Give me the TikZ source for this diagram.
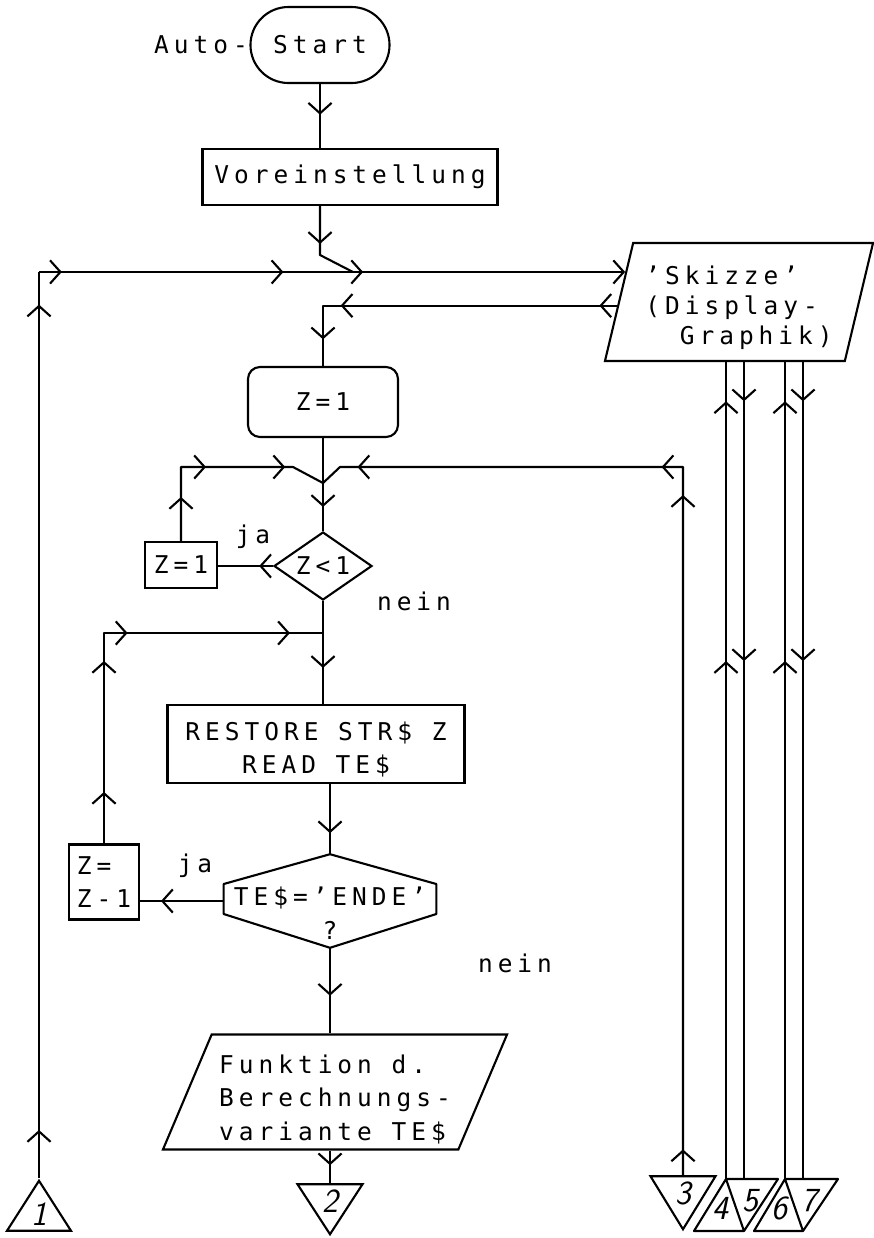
\documentclass[tikz,border=0pt]{standalone}
\usepackage{fontspec}
\newfontfamily\plotfont[LetterSpace=20.4]{DejaVu Sans Mono}
\usepackage{tikz}
\usetikzlibrary{positioning,arrows.meta,calc,shapes.geometric,shapes.misc,decorations.markings}
\tikzset{
  >={Straight Barb[length=2.6mm,width=5.8mm]},
  flow/.style={line width=1.5pt, line join=round},
  midarr/.style={postaction={decorate,decoration={markings,
                 mark=at position #1 with {\arrow{>}}}}},
  ptext/.style={font=\plotfont\fontsize{17.4}{23.5}\selectfont, inner sep=0pt},
  lbl/.style={ptext},
  termbox/.style={ptext, rounded rectangle, draw, line width=1.5pt},
  procbox/.style={ptext, draw, line width=1.5pt, align=center},
  rprocbox/.style={procbox, rounded corners=3mm},
  iobox/.style={ptext, trapezium, trapezium stretches body, draw, line width=1.5pt, align=left},
  decide/.style={ptext, diamond, aspect=1.44, draw, line width=1.5pt},
  hexbox/.style={ptext, align=center},
  connbox/.style={isosceles triangle, isosceles triangle stretches, draw, line width=1.5pt,
                  inner sep=0pt, font=\sffamily\slshape\fontsize{24}{24}\selectfont},
  connum/.style={inner sep=0pt, font=\sffamily\slshape\fontsize{24}{24}\selectfont}
}
\begin{document}
\begin{tikzpicture}[x=0.025cm, y=-0.025cm]
\useasboundingbox (0,0) rectangle (874,1238);
% main column
\node[termbox, minimum width=3.475cm, minimum height=1.9cm] (start) at (320,45) {Start};
\node[lbl, left=1pt of start] (auto) {Auto-};
\node[procbox, minimum width=7.375cm, minimum height=1.4cm] (vor) at (350,177) {Voreinstellung};
\node[iobox, minimum width=6.7cm, minimum height=2.95cm, trapezium left angle=74.4,
      trapezium right angle=105.6, font=\plotfont\fontsize{17.4}{21.5}\selectfont,
      text height=2.325cm, text depth=0.2cm] (skizze) at (739,302) {’Skizze’\\(Display-\\\phantom{xx}Graphik)};
\node[rprocbox, minimum width=3.75cm, minimum height=1.75cm] (z1) at (323,402) {Z=1};
\node[decide, minimum width=2.45cm, minimum height=1.7cm] (dZ) at (323,566) {Z<1};
\node[procbox, minimum width=1.8cm, minimum height=1.15cm] (z1s) at (181,565) {Z=1};
\node[lbl] (ja1) at (253,537) {ja};
\node[lbl] (nein1) at (414,601) {nein};
\node[procbox, minimum width=7.425cm, minimum height=1.95cm, text height=1.675cm,
      text depth=0.2cm] (restore) at (316,744) {RESTORE STR\$ Z\\READ TE\$};
\node[hexbox, minimum width=5.3cm, minimum height=2.325cm, text height=2.1cm,
      text depth=0.2cm] (te) at (330,901) {TE\$=’ENDE’\\?};
\node[procbox, align=left, minimum width=1.75cm, minimum height=1.875cm] (zzm1) at (104,882) {Z=\\Z-1};
\node[lbl] (ja2) at (195,866) {ja};
\node[lbl] (nein2) at (515,963) {nein};
\node[iobox, minimum width=8.6cm, minimum height=2.875cm, trapezium left angle=66.5,
      trapezium right angle=113.5, text height=2.6cm, text depth=0.2cm] (funk) at (335,1092)
      {Funktion d.\\Berechnungs-\\variante TE\$};
% connectors
\node[connbox, shape border rotate=90, minimum width=1.6cm, minimum height=1.25cm, anchor=apex] (c1) at (39,1178) {1};
\node[connbox, shape border rotate=270, minimum width=1.625cm, minimum height=1.25cm, anchor=apex] (c2) at (330,1237) {2};
\node[connbox, shape border rotate=270, minimum width=1.625cm, minimum height=1.325cm, anchor=apex] (c3) at (683,1232) {3};
\coordinate (p4a) at (694,1231);
\coordinate (p45) at (726,1179);
\coordinate (p5r) at (778,1179);
\coordinate (p5b) at (744,1231);
\coordinate (p6a) at (754,1231);
\coordinate (p67) at (785,1179);
\coordinate (p7r) at (838,1179);
\coordinate (p7b) at (803,1231);
\draw[flow] (p4a) -- (p45) -- (p5r) -- (p5b) -- cycle (p45) -- (p5b);
\draw[flow] (p6a) -- (p67) -- (p7r) -- (p7b) -- cycle (p67) -- (p7b);
\node[connum] (n4) at (720,1208) {4};
\node[connum] (n5) at (750,1201) {5};
\node[connum] (n6) at (779,1208) {6};
\node[connum] (n7) at (809,1201) {7};
% hexagon round TE$
\draw[flow] (te.north) -- ($(te.west)+(0,-17)$) -- ($(te.west)+(0,13)$) -- (te.south)
  -- ($(te.east)+(0,13)$) -- ($(te.east)+(0,-17)$) -- cycle;
% junctions
\coordinate (j0) at (320,255);
\coordinate (m0) at (353,272);
\coordinate (skin) at ($(skizze.top left corner)!0.25!(skizze.bottom left corner)$);
\coordinate (skout) at ($(skizze.top left corner)!0.53!(skizze.bottom left corner)$);
\coordinate (tl) at (c1.apex |- skin);
\coordinate (m1) at (323,483);
\coordinate (ml) at (293,467);
\coordinate (mr) at (340,467);
\coordinate (jr) at (323,633);
% flow lines
\draw[flow, midarr=0.48] (start.south) -- (start.south |- vor.north);
\draw[flow, midarr=0.44] (start.south |- vor.south) -- (j0) -- (m0);
\draw[flow, midarr=0.053, midarr=0.964] (c1.apex) -- (tl);
\draw[flow, midarr=0.039, midarr=0.417, midarr=0.553, ->] (tl) -- (skin);
\draw[flow, midarr=0.05, midarr=0.78, midarr=0.925] (skout) -| (z1.north);
\draw[flow] (z1.south) -- (m1);
\draw[flow, midarr=0.5] (m1) -- (dZ.north);
\draw[flow, midarr=0.2, midarr=0.45, midarr=0.81] (z1s.north) |- (ml) -- (m1);
\draw[flow, midarr=0.024, midarr=0.633, midarr=0.679, midarr=0.962] (c3.north) |- (mr) -- (m1);
\draw[flow, midarr=0.25] (dZ.west) -- (z1s.east |- dZ.west);
\draw[flow, midarr=0.65] (dZ.south) -- (dZ.south |- restore.north);
\draw[flow, midarr=0.12, midarr=0.425, midarr=0.545, midarr=0.923] (zzm1.north) |- (jr);
\draw[flow, midarr=0.7] (te.north |- restore.south) -- (te.north);
\draw[flow, midarr=0.75] (te.west) -- (zzm1.east |- te.west);
\draw[flow, midarr=0.56] (te.south) -- (te.south |- funk.north);
\draw[flow, midarr=0.45] (c2.north |- funk.south) -- (c2.north);
% lines to and from the display
\draw[flow, midarr=0.634, midarr=0.952] (p45) -- (p45 |- skizze.south);
\draw[flow, midarr=0.048, midarr=0.366] (p5b |- skizze.south) -- (p5b |- p45);
\draw[flow, midarr=0.634, midarr=0.952] (p67) -- (p67 |- skizze.south);
\draw[flow, midarr=0.048, midarr=0.366] (p7b |- skizze.south) -- (p7b |- p67);
\end{tikzpicture}
\end{document}
